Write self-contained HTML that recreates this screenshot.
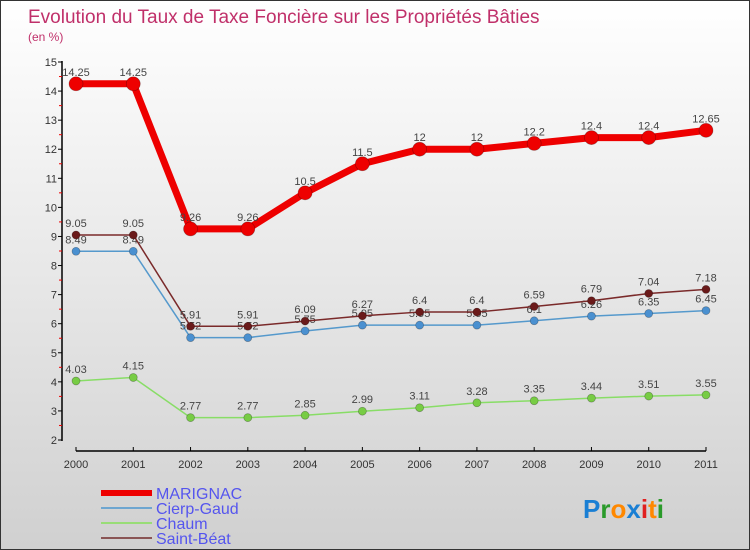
<!DOCTYPE html>
<html><head><meta charset="utf-8"><style>
body{margin:0;}
#wrap{width:750px;height:550px;position:relative;box-sizing:border-box;border:1px solid #333;background:linear-gradient(#ffffff,#d0d0d0);overflow:hidden;font-family:"Liberation Sans",sans-serif;}
svg{position:absolute;left:0;top:0;}
</style></head><body>
<div id="wrap">
<svg id="chart" width="750" height="550">
<text x="27" y="22" font-size="19" fill="#c0306a">Evolution du Taux de Taxe Foncière sur les Propriétés Bâties</text>
<text x="27" y="40" font-size="12" fill="#c0306a">(en %)</text>
</svg>
</div>
<script>
const years=["2000","2001","2002","2003","2004","2005","2006","2007","2008","2009","2010","2011"];
const marignac=[14.25,14.25,9.26,9.26,10.5,11.5,12,12,12.2,12.4,12.4,12.65];
const cierp=[8.49,8.49,5.52,5.52,5.75,5.95,5.95,5.95,6.1,6.26,6.35,6.45];
const chaum=[4.03,4.15,2.77,2.77,2.85,2.99,3.11,3.28,3.35,3.44,3.51,3.55];
const saintBeat=[9.05,9.05,5.91,5.91,6.09,6.27,6.4,6.4,6.59,6.79,7.04,7.18];
const yTicks=[2,3,4,5,6,7,8,9,10,11,12,13,14,15];
const NS="http://www.w3.org/2000/svg";
const svg=document.getElementById('chart');
const xS=i=>75+i*(630/11);
const yS=v=>61+(15-v)*(378/13);
function mk(t,a,p){const e=document.createElementNS(NS,t);for(const k in a)e.setAttribute(k,a[k]);(p||svg).appendChild(e);return e;}
// axes
let ax=mk('line',{x1:61,y1:60,x2:61,y2:440,stroke:'#000','stroke-width':1.5});


let bx=mk('line',{x1:75,y1:450,x2:705,y2:450,stroke:'#000','stroke-width':1.5});


yTicks.forEach(v=>{
  mk('line',{x1:57,y1:yS(v),x2:61,y2:yS(v),stroke:'#000'});
  if(v<15){mk('line',{x1:58,y1:yS(v+0.5),x2:61,y2:yS(v+0.5),stroke:'#e00'});}
  const t=mk('text',{x:56,y:yS(v)+4,'text-anchor':'end','font-size':11,fill:'#333'});
  t.textContent=v;
  
  
});
years.forEach((y,i)=>{
  mk('line',{x1:xS(i),y1:446,x2:xS(i),y2:450,stroke:'#000'});
  const t=mk('text',{x:xS(i),y:467,'text-anchor':'middle','font-size':11,fill:'#333'});
  t.textContent=y;
  
  
});
function series(data,color,dot,w,r,name){
  const g=mk('g',{});
  
  
  mk('polyline',{points:data.map((v,i)=>xS(i)+','+yS(v)).join(' '),fill:'none',stroke:color,'stroke-width':w,'stroke-linejoin':'round'},g);
  data.forEach((v,i)=>{
    const c=mk('circle',{cx:xS(i),cy:yS(v),r:r,fill:dot,stroke:'rgba(0,0,0,0.3)','stroke-width':0.7},g);
    
    
    const t=mk('text',{x:xS(i),y:yS(v)-8,'text-anchor':'middle','font-size':11,fill:'#444'},g);
    t.textContent=v;
    
    
  });
}
series(chaum,'#88dd66','#77cc44',1.5,4,'chaum');
series(cierp,'#5599cc','#4a90d0',1.5,4,'cierp-gaud');
series(saintBeat,'#7a2a2a','#6a1a1a',1.5,4,'saint-beat');
series(marignac,'#ee0000','#ee0000',7,7,'marignac');
// legend
const leg=[['MARIGNAC','#ee0000',6],['Cierp-Gaud','#6ea6d0',2],['Chaum','#99dd77',2],['Saint-Béat','#8a5555',2]];
leg.forEach((l,i)=>{
  const y=492+i*15;
  const g=mk('g',{});
  
  
  mk('line',{x1:100,y1:y,x2:151,y2:y,stroke:l[1],'stroke-width':l[2]},g);
  const t=mk('text',{x:155,y:y+6,'font-size':16,fill:'#5555ee'},g);
  t.textContent=l[0];
});
// logo
const lg=mk('text',{x:582,y:517,'font-size':26,'font-weight':'bold'});


[['P','#1a7fd4'],['r','#2a9a2a'],['o','#ff8800'],['x','#1a7fd4'],['i','#e02020'],['t','#ff8800'],['i','#2a9a2a']].forEach(p=>{const s=mk('tspan',{fill:p[1]},lg);s.textContent=p[0];});
</script>
</body></html>
